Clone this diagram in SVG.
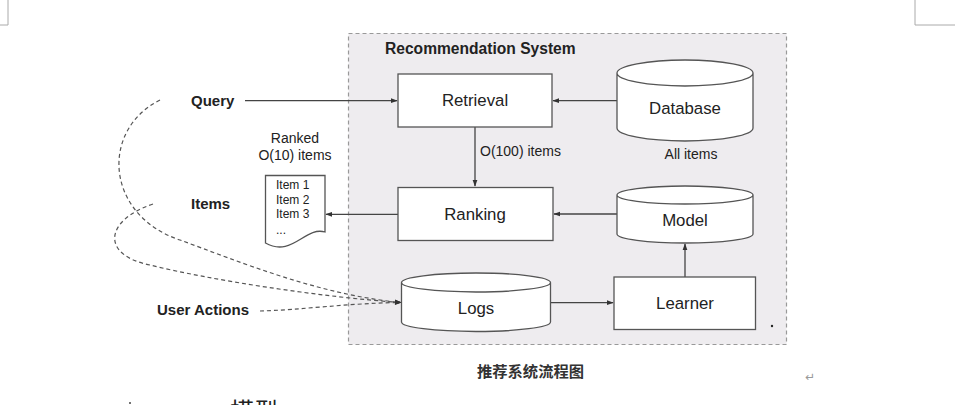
<svg xmlns="http://www.w3.org/2000/svg" width="955" height="405" viewBox="0 0 955 405">
<defs>
<style>
.box{fill:#fff;stroke:#555;stroke-width:1.3}
.ln{fill:none;stroke:#444;stroke-width:1.3}
.dash{fill:none;stroke:#555;stroke-width:1.2;stroke-dasharray:4 3}
.t{font-family:"Liberation Sans",Arial,sans-serif;fill:#222}
.lbl{font-size:16.8px;text-anchor:middle}
.b{font-weight:bold;font-size:15px}
.s{font-size:14px}
.corner{fill:none;stroke:#aaa;stroke-width:1}
</style>
<marker id="ah" viewBox="0 0 10 10" refX="9" refY="5" markerWidth="7" markerHeight="7" orient="auto" markerUnits="userSpaceOnUse">
<path d="M0,1.5 L10,5 L0,8.5 Z" fill="#333"/>
</marker>
</defs>
<rect width="955" height="405" fill="#fff"/>
<path class="corner" d="M8,0 V25 H0"/>
<path class="corner" d="M915,0 V25 H955"/>

<g id="system">
<rect x="348.5" y="33.5" width="438" height="311" fill="#eeecef" stroke="#999" stroke-width="1.2" stroke-dasharray="4 3"/>
<text class="t b" x="385" y="54" style="font-size:15.6px">Recommendation System</text>
</g>

<g id="connectors">
<path class="ln" d="M245,100.7 H397" marker-end="url(#ah)"/>
<path class="ln" d="M617,100.7 H553" marker-end="url(#ah)"/>
<path class="ln" d="M475,127 V186" marker-end="url(#ah)"/>
<path class="ln" d="M617,214 H554" marker-end="url(#ah)"/>
<path class="ln" d="M398,214.3 H326" marker-end="url(#ah)"/>
<path class="ln" d="M685,277 V244" marker-end="url(#ah)"/>
<path class="ln" d="M551,302.7 H613" marker-end="url(#ah)"/>
<path class="dash" d="M160,100 C100,130 105,215 180,240 C240,262 320,295 401,302.5" marker-end="url(#ah)"/>
<path class="dash" d="M153,204 C105,220 100,255 150,265 C210,280 320,297 401,302.5" marker-end="url(#ah)"/>
<path class="dash" d="M260,311 C300,310 350,303 401,302.5" marker-end="url(#ah)"/>
<text class="t s" x="480" y="156">O(100) items</text>
</g>

<g id="query"><text class="t b" x="191" y="106">Query</text></g>
<g id="items"><text class="t b" x="191" y="209">Items</text></g>
<g id="user-actions"><text class="t b" x="157" y="315">User Actions</text></g>

<g id="ranked-list">
<text class="t s" x="295" y="143" text-anchor="middle">Ranked</text>
<text class="t s" x="295" y="160" text-anchor="middle">O(10) items</text>
<path class="box" d="M265.5,175.5 H325 V232 C305,226 292,258 265.5,243 Z"/>
<text class="t" x="276" y="189" font-size="12">Item 1</text>
<text class="t" x="276" y="204" font-size="12">Item 2</text>
<text class="t" x="276" y="218" font-size="12">Item 3</text>
<text class="t" x="276" y="234" font-size="12">...</text>
</g>

<g id="retrieval">
<rect class="box" x="398" y="74" width="154" height="53"/>
<text class="t lbl" x="475" y="106">Retrieval</text>
</g>

<g id="ranking">
<rect class="box" x="398" y="187.5" width="155" height="53"/>
<text class="t lbl" x="475" y="220">Ranking</text>
</g>

<g id="database">
<path class="box" d="M617,73 V128 A68,13 0 0 0 753,128 V73 A68,13 0 0 0 617,73 A68,13 0 0 0 753,73"/>
<text class="t lbl" x="685" y="114">Database</text>
<text class="t s" x="691" y="159" text-anchor="middle">All items</text>
</g>

<g id="model">
<path class="box" d="M617,195 V234 A68,9 0 0 0 753,234 V195 A68,9 0 0 0 617,195 A68,9 0 0 0 753,195"/>
<text class="t lbl" x="685" y="226">Model</text>
</g>

<g id="logs">
<path class="box" d="M401.5,282.5 V322 A74.5,9.5 0 0 0 550.5,322 V282.5 A74.5,9.5 0 0 0 401.5,282.5 A74.5,9.5 0 0 0 550.5,282.5"/>
<text class="t lbl" x="476" y="314">Logs</text>
</g>

<g id="learner">
<rect class="box" x="614" y="277" width="141.5" height="52.5"/>
<text class="t lbl" x="685" y="309">Learner</text>
</g>

<circle cx="772" cy="326" r="1.2" fill="#222"/>

<g id="caption">
<text x="530.5" y="377" text-anchor="middle" font-family="'Noto Sans CJK SC',sans-serif" font-size="15.3" font-weight="bold" fill="#333">推荐系统流程图</text>
<text x="810" y="381" text-anchor="middle" font-family="'DejaVu Sans',sans-serif" font-size="12" fill="#999">↵</text>
<text x="230" y="420" font-family="'Noto Sans CJK SC',sans-serif" font-size="24" fill="#222">模型</text>
<circle cx="130" cy="403" r="1" fill="#444"/>
</g>
</svg>
